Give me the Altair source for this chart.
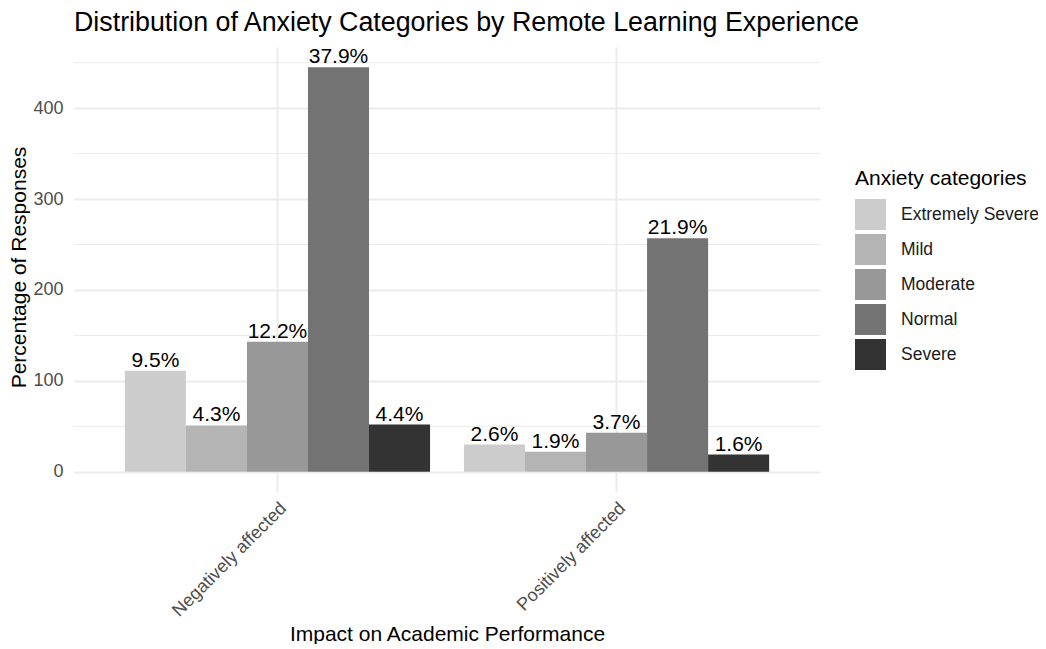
import altair as alt
import pandas as pd

groups = ["Negatively affected", "Positively affected"]
categories = ["Extremely Severe", "Mild", "Moderate", "Normal", "Severe"]
neg_counts = [111, 51, 143, 445, 52]
pos_counts = [30, 22, 43, 257, 19]
neg_labels = ["9.5%", "4.3%", "12.2%", "37.9%", "4.4%"]
pos_labels = ["2.6%", "1.9%", "3.7%", "21.9%", "1.6%"]
grey_colors = ["#CCCCCC", "#B4B4B4", "#989898", "#737373", "#333333"]
y_ticks = [0, 100, 200, 300, 400]
y_minor = [50, 150, 250, 350, 450]

rows = []
for g, counts, labels in [(groups[0], neg_counts, neg_labels), (groups[1], pos_counts, pos_labels)]:
    for c, v, l in zip(categories, counts, labels):
        rows.append({"group": g, "category": c, "count": v, "label": l})
df = pd.DataFrame(rows)
minor_df = pd.DataFrame({"v": y_minor})

FONT = "Liberation Sans"
GRID = "#EBEBEB"

y_scale = alt.Scale(domain=[-22.25, 467.25], nice=False, zero=False)
y_axis = alt.Axis(
    values=y_ticks, grid=True, gridColor=GRID, gridWidth=2, domain=False, ticks=False,
    labelFontSize=18, labelColor="#4D4D4D", labelPadding=11, labelFont=FONT,
    title="Percentage of Responses", titleFontSize=21, titleFont=FONT, titleColor="black",
    titleFontWeight="normal", titleX=-49, titleY=220, titleAngle=270, titleAlign="center",
    titleBaseline="alphabetic",
)

x_enc = alt.X(
    "group:N", sort=groups, title="Impact on Academic Performance",
    scale=alt.Scale(paddingInner=0.1, paddingOuter=0.15),
    axis=alt.Axis(
        labelAngle=315, labelAlign="right", labelBaseline="top", labelPadding=7,
        labelFontSize=18, labelColor="#4D4D4D", labelFont=FONT,
        grid=True, gridColor=GRID, gridWidth=2, bandPosition=0.5,
        domain=False, ticks=False,
        titleFontSize=21, titleFont=FONT, titleColor="black", titleFontWeight="normal",
        titleY=148, titleBaseline="alphabetic",
    ),
)
xoff = alt.XOffset("category:N", sort=categories, scale=alt.Scale(paddingInner=0, paddingOuter=0))

minor = alt.Chart(minor_df).mark_rule(color=GRID, strokeWidth=1).encode(
    y=alt.Y("v:Q", scale=y_scale, axis=y_axis)
)

bars = alt.Chart(df).mark_bar().encode(
    x=x_enc,
    xOffset=xoff,
    y=alt.Y("count:Q", scale=y_scale, axis=y_axis),
    color=alt.Color(
        "category:N", sort=categories,
        scale=alt.Scale(domain=categories, range=grey_colors),
        legend=alt.Legend(
            title="Anxiety categories", orient="none", legendX=781, legendY=121,
            titleFontSize=21, titleFont=FONT, titleFontWeight="normal", titleColor="black",
            titlePadding=10, labelFontSize=17.5, labelFont=FONT, labelColor="#1A1A1A",
            symbolType="square", symbolSize=961, symbolStrokeWidth=0, symbolOpacity=1,
            rowPadding=4, labelOffset=15,
        ),
    ),
)

text = alt.Chart(df).mark_text(
    baseline="alphabetic", dy=-4, fontSize=21, font=FONT, color="black"
).encode(
    x=x_enc,
    xOffset=xoff,
    y=alt.Y("count:Q", scale=y_scale, axis=y_axis),
    text="label:N",
)

chart = alt.layer(minor, bars, text).properties(
    width=746,
    height=445,
    title=alt.TitleParams(
        "Distribution of Anxiety Categories by Remote Learning Experience",
        anchor="start", frame="group", fontSize=26.8, font=FONT, fontWeight="normal",
        color="black", baseline="alphabetic", offset=15, dy=27,
    ),
    autosize=alt.AutoSizeParams(type="none"),
    padding={"left": 66, "top": 39, "right": 218, "bottom": 152},
).configure(font=FONT).configure_view(stroke=None)

chart.save("out.html", embed_options={"renderer": "svg", "actions": False})
